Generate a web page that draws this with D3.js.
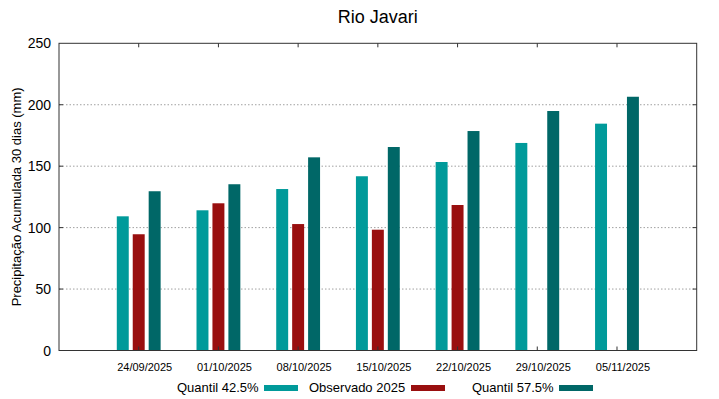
<!DOCTYPE html>
<html>
<head>
<meta charset="utf-8">
<script src="https://cdn.jsdelivr.net/npm/d3@7"></script>
<style>
  body { margin: 0; background: #fff; }
  svg { display: block; font-family: "Liberation Sans", Arial, sans-serif; }
</style>
</head>
<body>
<div id="chart"></div>
<script>
const dates = ["24/09/2025", "01/10/2025", "08/10/2025", "15/10/2025", "22/10/2025", "29/10/2025", "05/11/2025"]
const quantil425 = [109.2, 114.1, 131.4, 141.8, 153.4, 168.9, 184.6]
const observado = [94.6, 119.8, 102.9, 98.3, 118.4, null, null]
const quantil575 = [129.6, 135.3, 157.2, 165.6, 178.6, 194.9, 206.5]
const yTicks = [0, 50, 100, 150, 200, 250]

const series = [
  { name: "Quantil 42.5%", values: quantil425, color: "#009a9a", offset: -0.2 },
  { name: "Observado 2025", values: observado, color: "#990f0f", offset: 0 },
  { name: "Quantil 57.5%", values: quantil575, color: "#006767", offset: 0.2 }
]

const width = 719
const height = 399
const margin = { top: 43.3, right: 22.3, bottom: 48.5, left: 59 }

const svg = d3.select("#chart").append("svg")
  .attr("width", width)
  .attr("height", height)

const x = d3.scaleLinear().domain([-1, 7]).range([margin.left, width - margin.right])
const y = d3.scaleLinear().domain([0, 250]).range([height - margin.bottom, margin.top])
const barW = x(0.15) - x(0)

// grid
svg.append("g")
  .selectAll("line")
  .data(yTicks.filter(d => d > 0 && d < 250))
  .enter().append("line")
  .attr("x1", x(-1)).attr("x2", x(7))
  .attr("y1", d => y(d)).attr("y2", d => y(d))
  .attr("stroke", "#a0a0a0")
  .attr("stroke-width", 1)
  .attr("stroke-dasharray", "1.5,2")

// bars
series.forEach(s => {
  svg.append("g")
    .selectAll("rect")
    .data(s.values.map((v, i) => ({ v, i })).filter(d => d.v != null))
    .enter().append("rect")
    .attr("x", d => x(d.i + s.offset) - barW / 2)
    .attr("y", d => y(d.v))
    .attr("width", barW)
    .attr("height", d => y(0) - y(d.v))
    .attr("fill", s.color)
})

// y axis ticks + labels
const yAxis = svg.append("g")
yTicks.forEach(t => {
  yAxis.append("text")
    .attr("x", 51)
    .attr("y", y(t) + 5)
    .attr("text-anchor", "end")
    .attr("font-size", "14px")
    .attr("fill", "#000")
    .text(t)
  if (t > 0 && t < 250) {
    yAxis.append("line")
      .attr("x1", x(-1)).attr("x2", x(-1) + 4)
      .attr("y1", y(t)).attr("y2", y(t))
      .attr("stroke", "#333")
    yAxis.append("line")
      .attr("x1", x(7)).attr("x2", x(7) - 4)
      .attr("y1", y(t)).attr("y2", y(t))
      .attr("stroke", "#333")
  }
})

// x ticks + labels
dates.forEach((d, i) => {
  svg.append("line")
    .attr("x1", x(i)).attr("x2", x(i))
    .attr("y1", y(0)).attr("y2", y(0) - 4)
    .attr("stroke", "#333")
  svg.append("line")
    .attr("x1", x(i)).attr("x2", x(i))
    .attr("y1", y(250)).attr("y2", y(250) + 4)
    .attr("stroke", "#333")
  svg.append("text")
    .attr("x", x(i) + 6)
    .attr("y", 371)
    .attr("text-anchor", "middle")
    .attr("font-size", "11px")
    .attr("fill", "#000")
    .text(d)
})

// frame
svg.append("rect")
  .attr("x", x(-1)).attr("y", y(250))
  .attr("width", x(7) - x(-1))
  .attr("height", y(0) - y(250))
  .attr("fill", "none")
  .attr("stroke", "#333")
  .attr("stroke-width", 1)

// title
svg.append("text")
  .attr("x", (x(-1) + x(7)) / 2)
  .attr("y", 23)
  .attr("text-anchor", "middle")
  .attr("font-size", "18px")
  .attr("fill", "#000")
  .text("Rio Javari")

// y label
svg.append("text")
  .attr("transform", `translate(21, ${(y(0) + y(250)) / 2}) rotate(-90)`)
  .attr("text-anchor", "middle")
  .attr("font-size", "13px")
  .attr("fill", "#000")
  .text("Precipitação Acumulada 30 dias (mm)")

// legend
const legendPos = [
  { tx: 177, sx: 264 },
  { tx: 309, sx: 411 },
  { tx: 472, sx: 559 }
]
series.forEach((s, i) => {
  svg.append("text")
    .attr("x", legendPos[i].tx)
    .attr("y", 392)
    .attr("font-size", "13px")
    .attr("fill", "#000")
    .text(s.name)
  svg.append("rect")
    .attr("x", legendPos[i].sx)
    .attr("y", 385)
    .attr("width", 34)
    .attr("height", 6)
    .attr("fill", s.color)
})
</script>
</body>
</html>
